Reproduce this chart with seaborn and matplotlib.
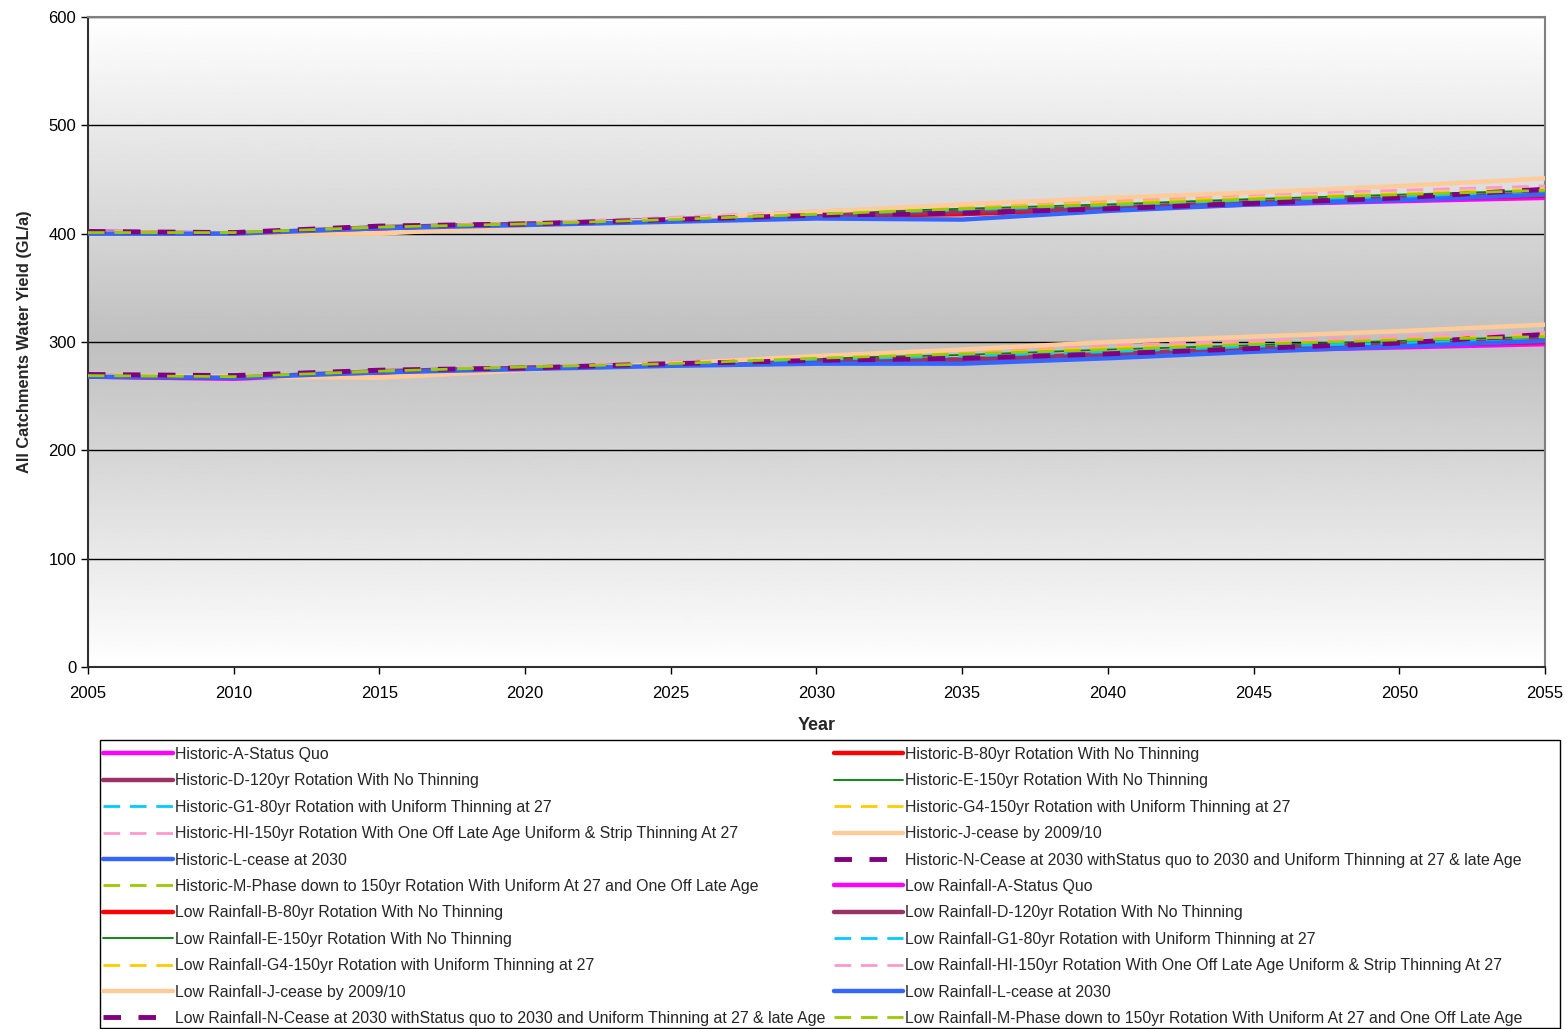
import numpy as np
import pandas as pd
import matplotlib
matplotlib.use("Agg")
import matplotlib.pyplot as plt
from matplotlib.patches import Rectangle
import seaborn as sns

sns.set_style("white")
plt.rcParams['font.family'] = ['Liberation Sans', 'DejaVu Sans']

# data, every 5 years
years = [2005, 2010, 2015, 2020, 2025, 2030, 2035, 2040, 2045, 2050, 2055]

scenarios = ["A-Status Quo",
             "B-80yr Rotation With No Thinning",
             "D-120yr Rotation With No Thinning",
             "E-150yr Rotation With No Thinning",
             "G1-80yr Rotation with Uniform Thinning at 27",
             "G4-150yr Rotation with Uniform Thinning at 27",
             "HI-150yr Rotation With One Off Late Age Uniform & Strip Thinning At 27",
             "J-cease by 2009/10",
             "L-cease at 2030",
             "N-Cease at 2030 withStatus quo to 2030 and Uniform Thinning at 27 & late Age",
             "M-Phase down to 150yr Rotation With Uniform At 27 and One Off Late Age"]

historic = [
    [402, 400, 405, 409, 412, 416, 419, 423, 427, 430, 433],
    [401, 400, 405, 409, 412, 416, 418, 423, 428, 432, 435],
    [401, 400, 406, 409, 413, 417, 420, 424, 429, 433, 437],
    [401, 401, 406, 409, 414, 419, 423, 427, 432, 436, 440],
    [401, 401, 405, 409, 413, 418, 422, 426, 431, 434, 437],
    [402, 401, 406, 410, 414, 420, 425, 429, 433, 437, 441],
    [402, 401, 406, 410, 415, 421, 426, 431, 436, 440, 444],
    [401, 400, 400, 407, 413, 420, 427, 433, 438, 444, 451],
    [400, 400, 405, 408, 411, 414, 413, 421, 427, 431, 436],
    [402, 401, 407, 409, 413, 417, 419, 423, 428, 433, 441],
    [401, 401, 406, 409, 413, 418, 423, 427, 432, 436, 440],
]

low_rainfall = [
    [268, 266, 272, 276, 279, 282, 283, 287, 292, 295, 298],
    [268, 267, 272, 276, 279, 282, 283, 288, 293, 297, 300],
    [269, 267, 273, 276, 279, 283, 284, 289, 294, 298, 302],
    [269, 268, 273, 276, 280, 285, 288, 293, 297, 301, 305],
    [269, 268, 272, 276, 280, 284, 287, 291, 296, 299, 302],
    [270, 268, 273, 277, 281, 286, 290, 295, 299, 303, 306],
    [270, 268, 273, 277, 282, 287, 292, 297, 301, 305, 309],
    [269, 268, 267, 274, 280, 287, 293, 300, 305, 310, 316],
    [268, 267, 272, 275, 278, 280, 280, 285, 291, 296, 301],
    [270, 269, 274, 276, 280, 283, 285, 289, 294, 299, 307],
    [269, 268, 273, 277, 280, 285, 289, 293, 298, 302, 305],
]

colors = ["#FF00FF", "#FF0000", "#993366", "#008000", "#00CCFF", "#FFCC00",
          "#FF99CC", "#FFCC99", "#3366FF", "#800080", "#99CC00"]
widths = [3.2, 3.2, 3.2, 1.3, 2.0, 2.0, 2.0, 3.2, 3.2, 3.5, 2.0]
dash_styles = [None, None, None, None, (6, 3.5), (6, 3.5), (6, 3.5), None, None, (3.6, 3.6), (6, 3.5)]

fig = plt.figure(figsize=(15.68, 10.29), dpi=100)
ax = fig.add_axes([0.0561, 0.3518, 0.9292, 0.6317])

# grey band background, white at top and bottom
t = np.linspace(0, 1, 400)
shade = 0.75 + 0.25 * np.abs(t - 0.5) * 2
ax.imshow(shade[:, None], extent=[2005, 2055, 0, 600], aspect="auto",
          cmap="gray", vmin=0, vmax=1, zorder=0, interpolation="bilinear")

handles = []
labels = []
for group, data in [("Historic-", historic), ("Low Rainfall-", low_rainfall)]:
    for i, name in enumerate(scenarios):
        sns.lineplot(x=years, y=data[i], ax=ax, color=colors[i],
                     linewidth=widths[i], zorder=3)
        line = ax.get_lines()[-1]
        if dash_styles[i] is not None:
            line.set_dashes(dash_styles[i])
        handles.append(line)
        labels.append(group + name)

ax.set_xlim(2005, 2055)
ax.set_ylim(0, 600)
ax.set_xticks(range(2005, 2056, 5))
ax.set_yticks(range(0, 601, 100))
ax.yaxis.grid(True, color="black", linewidth=1.0, zorder=1)
ax.set_axisbelow(True)
ax.tick_params(axis="both", labelsize=12, length=5, width=1, direction="out",
               left=True, bottom=True, colors="black")
ax.tick_params(axis="x", pad=9)
for s in ["left", "bottom"]:
    ax.spines[s].set_color("#303030")
    ax.spines[s].set_linewidth(1.5)
for s in ["right", "top"]:
    ax.spines[s].set_color("#808080")
    ax.spines[s].set_linewidth(1.5)

ax.set_xlabel("Year", fontsize=13, fontweight="bold", labelpad=11)
ax.set_ylabel("All Catchments Water Yield (GL/a)", fontsize=11.8, fontweight="bold", labelpad=12)

# legend fills row by row in the reference, matplotlib fills columns
order = list(range(0, len(handles), 2)) + list(range(1, len(handles), 2))
leg = fig.legend([handles[k] for k in order], [labels[k] for k in order],
                 loc="upper left", bbox_to_anchor=(103 / 1568, 1 - 747 / 1029),
                 ncol=2, fontsize=11.4, frameon=False,
                 handlelength=4.4, handletextpad=0.12,
                 labelspacing=0.72, borderpad=0, borderaxespad=0, columnspacing=0.56)

# legend box as in the reference
fig.patches.append(Rectangle((100 / 1568, 1 / 1029), 1460 / 1568, 288 / 1029,
                             transform=fig.transFigure, fill=False,
                             edgecolor="black", linewidth=1.0))

fig.savefig("out.png", dpi=100)
